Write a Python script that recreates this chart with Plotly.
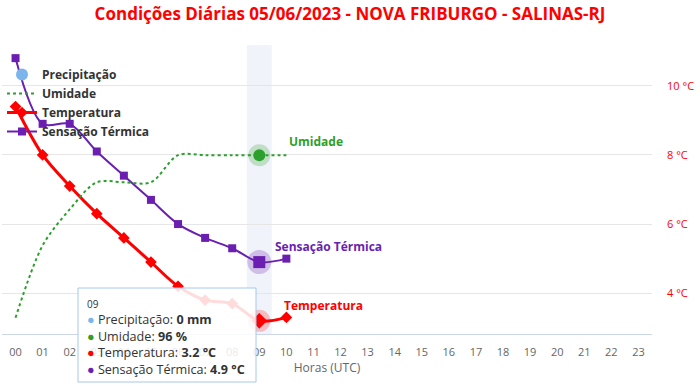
import plotly.graph_objects as go

# ---------------- data ----------------
hours = [0, 1, 2, 3, 4, 5, 6, 7, 8, 9, 10]
hour_labels = ["00", "01", "02", "03", "04", "05", "06", "07", "08", "09", "10", "11",
               "12", "13", "14", "15", "16", "17", "18", "19", "20", "21", "22", "23"]
precipitacao = [0, 0, 0, 0, 0, 0, 0, 0, 0, 0, 0]          # mm
umidade = [78, 86, 90, 93, 93, 93, 96, 96, 96, 96, 96]      # %
temperatura = [9.4, 8.0, 7.1, 6.3, 5.6, 4.9, 4.2, 3.8, 3.7, 3.2, 3.3]   # °C
sensacao = [10.8, 8.9, 8.9, 8.1, 7.4, 6.7, 6.0, 5.6, 5.3, 4.9, 5.0]     # °C
temp_ticks = [4, 6, 8, 10]
hover_idx = 9

# ---------------- styles ----------------
FONT = "Open Sans"
C_PREC = "#7cb5ec"
C_UMID = "#2ca02c"
C_TEMP = "#ff0000"
C_SENS = "#6a1fb0"

W, H = 700, 387
ML, MR, MT, MB = 2, 48, 45, 53
PW, PH = W - ML - MR, H - MT - MB


def px2x(px):
    return (px - ML) / PW


def px2y(py):
    return (H - MB - py) / PH


fig = go.Figure()

fig.add_trace(go.Scatter(
    x=hours, y=precipitacao, name="Precipitação", mode="markers", yaxis="y3",
    marker=dict(symbol="circle", size=12, color=C_PREC), hoverinfo="skip"))

fig.add_trace(go.Scatter(
    x=hours, y=umidade, name="Umidade", mode="lines", yaxis="y2",
    line=dict(color=C_UMID, width=2, dash="dot", shape="spline", smoothing=0.9),
    hoverinfo="skip"))

fig.add_trace(go.Scatter(
    x=hours, y=temperatura, name="Temperatura", mode="lines+markers",
    line=dict(color=C_TEMP, width=3, shape="spline", smoothing=0.9),
    marker=dict(symbol="diamond", size=9, color=C_TEMP), hoverinfo="skip"))

fig.add_trace(go.Scatter(
    x=hours, y=sensacao, name="Sensação Térmica", mode="lines+markers",
    line=dict(color=C_SENS, width=2, shape="spline", smoothing=0.9),
    marker=dict(symbol="square", size=8, color=C_SENS), hoverinfo="skip"))

# hover-state halos at the highlighted hour
hx = [hours[hover_idx]]
fig.add_trace(go.Scatter(x=hx, y=[umidade[hover_idx]], yaxis="y2", mode="markers",
                         showlegend=False, hoverinfo="skip",
                         marker=dict(symbol="circle", size=22, color="rgba(44,160,44,0.25)")))
fig.add_trace(go.Scatter(x=hx, y=[umidade[hover_idx]], yaxis="y2", mode="markers",
                         showlegend=False, hoverinfo="skip",
                         marker=dict(symbol="circle", size=12, color=C_UMID)))
fig.add_trace(go.Scatter(x=hx, y=[temperatura[hover_idx]], mode="markers",
                         showlegend=False, hoverinfo="skip",
                         marker=dict(symbol="circle", size=22, color="rgba(255,0,0,0.22)")))
fig.add_trace(go.Scatter(x=hx, y=[temperatura[hover_idx]], mode="markers",
                         showlegend=False, hoverinfo="skip",
                         marker=dict(symbol="diamond", size=12, color=C_TEMP)))
fig.add_trace(go.Scatter(x=hx, y=[sensacao[hover_idx]], mode="markers",
                         showlegend=False, hoverinfo="skip",
                         marker=dict(symbol="circle", size=24, color="rgba(106,31,176,0.25)")))
fig.add_trace(go.Scatter(x=hx, y=[sensacao[hover_idx]], mode="markers",
                         showlegend=False, hoverinfo="skip",
                         marker=dict(symbol="square", size=12, color=C_SENS)))

shapes = [
    # crosshair band
    dict(type="rect", xref="x", yref="paper", x0=hours[hover_idx] - 0.46, x1=hours[hover_idx] + 0.46,
         y0=0, y1=1, fillcolor="rgba(204,214,235,0.3)", line=dict(width=0), layer="below"),
    # tooltip box
    dict(type="rect", xref="paper", yref="paper",
         x0=px2x(78), x1=px2x(256), y0=px2y(382), y1=px2y(288),
         fillcolor="rgba(255,255,255,0.86)", line=dict(color="#a6c8ec", width=1), layer="above"),
]

tip = (f"<span style='font-size:10px'>{hour_labels[hours[hover_idx]]}</span><br>"
       f"<span style='color:{C_PREC}'>●</span> Precipitação: <b>{precipitacao[hover_idx]} mm</b><br>"
       f"<span style='color:{C_UMID}'>●</span> Umidade: <b>{umidade[hover_idx]} %</b><br>"
       f"<span style='color:{C_TEMP}'>●</span> Temperatura: <b>{temperatura[hover_idx]} °C</b><br>"
       f"<span style='color:{C_SENS}'>●</span> Sensação Térmica: <b>{sensacao[hover_idx]} °C</b>")

annotations = [
    dict(xref="paper", yref="paper", x=px2x(85), y=px2y(295), xanchor="left", yanchor="top",
         align="left", showarrow=False, text=tip, font=dict(family=FONT, size=12.6, color="#333333")),
    dict(x=hours[-1], y=umidade[-1], yref="y2", text="<b>Umidade</b>", showarrow=False,
         xanchor="left", yanchor="middle", xshift=1, yshift=14,
         font=dict(family=FONT, size=12, color=C_UMID)),
    dict(x=hours[-1], y=sensacao[-1], text="<b>Sensação Térmica</b>", showarrow=False,
         xanchor="left", yanchor="middle", xshift=-13, yshift=12,
         font=dict(family=FONT, size=12, color=C_SENS)),
    dict(x=hours[-1], y=temperatura[-1], text="<b>Temperatura</b>", showarrow=False,
         xanchor="left", yanchor="middle", xshift=-4, yshift=12,
         font=dict(family=FONT, size=12, color=C_TEMP)),
]

fig.update_layout(
    width=W, height=H,
    margin=dict(l=ML, r=MR, t=MT, b=MB),
    paper_bgcolor="white", plot_bgcolor="white",
    font=dict(family=FONT, color="#666666"),
    title=dict(text="<b>Condições Diárias 05/06/2023 - NOVA FRIBURGO - SALINAS-RJ</b>",
               x=0.5, xref="container", xanchor="center", y=1 - 14 / H, yanchor="middle",
               font=dict(family=FONT, size=17, color="#ff0000")),
    xaxis=dict(range=[-0.5, 23.5], tickmode="array", tickvals=list(range(24)), ticktext=hour_labels,
               showgrid=False, zeroline=False, showline=True, linecolor="#ccd6eb", linewidth=1,
               ticks="", tickfont=dict(size=11, color="#666666"), automargin=False,
               ticklabelstandoff=8,
               title=dict(text="Horas (UTC)", font=dict(size=12, color="#666666"), standoff=4)),
    yaxis=dict(side="right", range=[2.82, 11.18], tickmode="array", tickvals=temp_ticks,
               ticktext=[f"{t} °C" for t in temp_ticks], showgrid=True, gridcolor="#e6e6e6",
               zeroline=False, showline=False, ticks="", ticklabelstandoff=14, automargin=False,
               tickfont=dict(size=11, color="#ff0000")),
    yaxis2=dict(overlaying="y", range=[76.2, 108.2], visible=False),
    yaxis3=dict(overlaying="y", range=[1, 2], visible=False),
    legend=dict(x=0, y=px2y(60), xanchor="left", yanchor="top", bgcolor="rgba(0,0,0,0)",
                font=dict(family=FONT, size=12, color="#333333", weight="bold"),
                itemwidth=30, tracegroupgap=0),
    shapes=shapes, annotations=annotations,
    showlegend=True, hovermode=False,
)

fig.write_html("out.html", config={"displayModeBar": False},
               post_script="document.body.style.margin='0';")
